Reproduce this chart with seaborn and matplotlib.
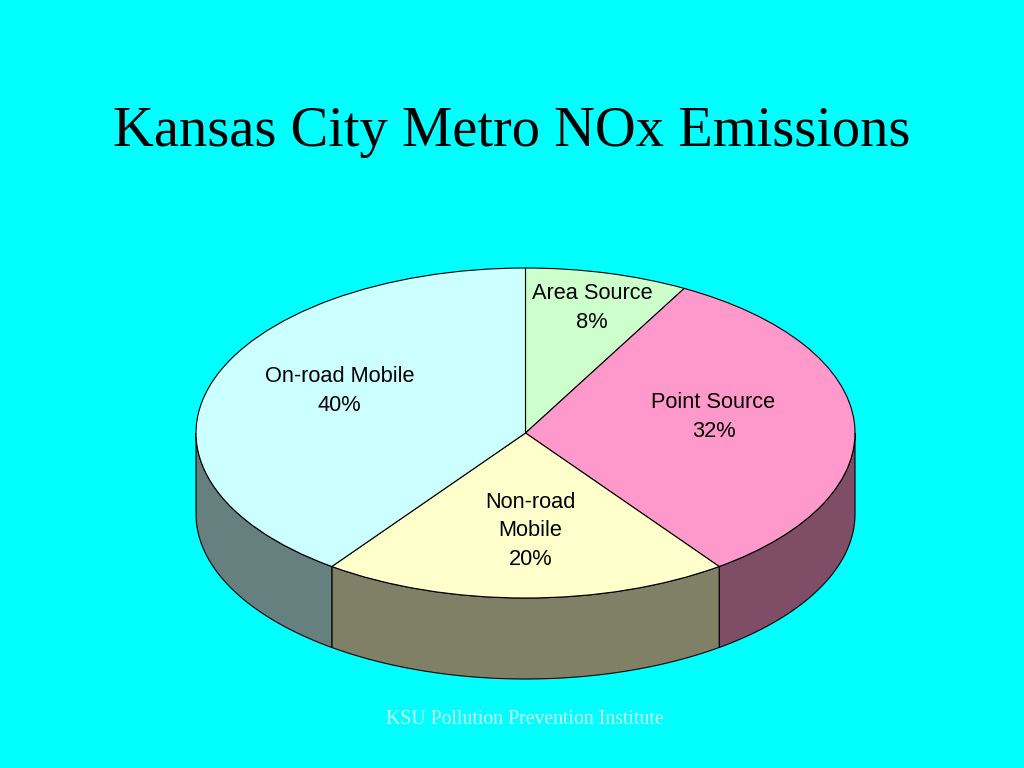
import numpy as np
import matplotlib
matplotlib.use('Agg')
import matplotlib.pyplot as plt
import seaborn as sns

title = 'Kansas City Metro NOx Emissions'
footer = 'KSU Pollution Prevention Institute'
categories = ['Area Source', 'Point Source', 'Non-road\nMobile', 'On-road Mobile']
values = [8, 32, 20, 40]
top_colors = ['#CCFFCC', '#FF99CC', '#FFFFCC', '#CCFFFF']
side_colors = ['#668066', '#804D66', '#808066', '#668080']
bg = '#00FFFF'

# geometria en pixeles de la imagen
W, H = 1024, 768
cx, cy, rx, ry, depth = 525.5, 433, 329.5, 165, 81
label_xy = [(592, 308), (713.5, 417), (530.5, 531), (339.5, 391)]

sns.set_theme(style='white', rc={'figure.facecolor': bg, 'axes.facecolor': bg})

fig = plt.figure(figsize=(W / 100, H / 100), dpi=100)
ax = fig.add_axes([0, 0, 1, 1])

# tapa de la tarta
wedges, _ = ax.pie(values, colors=sns.color_palette(top_colors), startangle=90, counterclock=False,
                   radius=1, wedgeprops={'edgecolor': 'black', 'linewidth': 0.8})
for w in wedges:
    w.set_zorder(3)
ax.set_aspect('auto')
ax.set_xlim(-cx / rx, (W - cx) / rx)
ax.set_ylim((cy - H) / ry, cy / ry)
ax.set_axis_off()

# pared lateral: solo la mitad delantera
d = depth / ry
edges = np.cumsum([0] + values) / sum(values) * 2 * np.pi
for i in range(len(values)):
    a = max(edges[i], np.pi / 2)
    b = min(edges[i + 1], 3 * np.pi / 2)
    if a >= b:
        continue
    t = np.linspace(a, b, 120)
    xs = np.concatenate([np.sin(t), np.sin(t[::-1])])
    ys = np.concatenate([np.cos(t), np.cos(t[::-1]) - d])
    ax.fill(xs, ys, facecolor=side_colors[i], edgecolor='black', linewidth=0.8, zorder=2)

# etiquetas
for cat, val, (px, py) in zip(categories, values, label_xy):
    fig.text(px / W, 1 - py / H, f'{cat}\n{val}%', ha='center', va='center', color='black',
             fontsize=15.7, family='Liberation Sans', linespacing=1.47)

fig.text(512 / W, 1 - 146 / H, title, ha='center', va='baseline', color='black',
         fontsize=40.7, family='Liberation Serif')
fig.text(525 / W, 1 - 724 / H, footer, ha='center', va='baseline', color='#CCFFFF',
         fontsize=14.2, family='Liberation Serif')

fig.savefig('out.png', dpi=100, facecolor=bg)
